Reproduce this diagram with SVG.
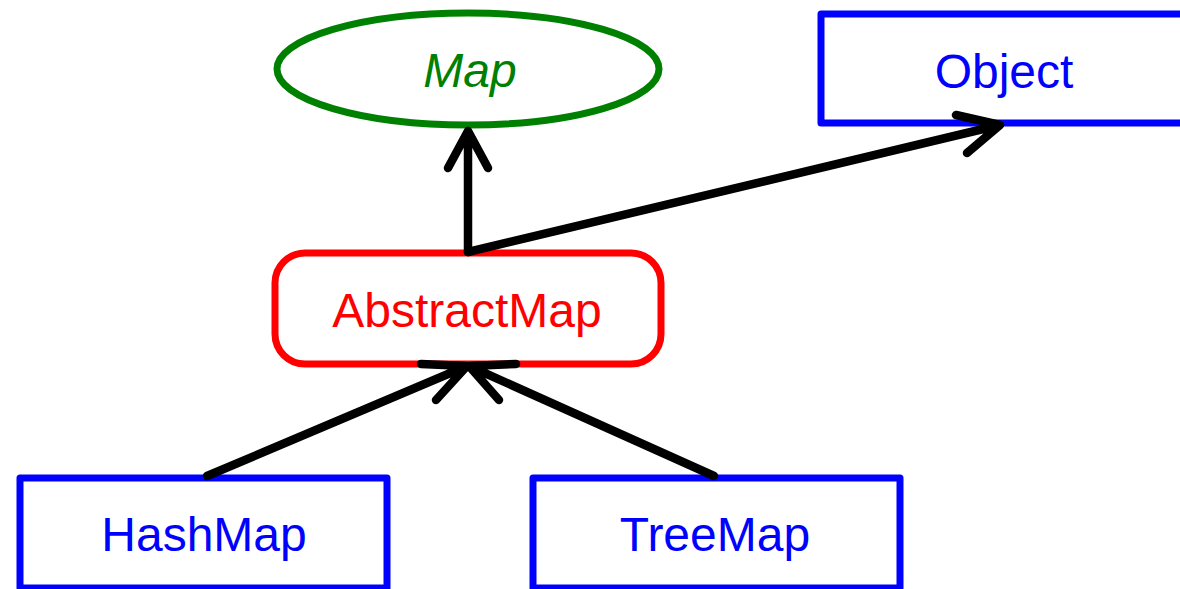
<svg xmlns="http://www.w3.org/2000/svg" width="1180" height="589" viewBox="0 0 1180 589">
<style>
.lbl{font-family:"Liberation Sans",Arial,sans-serif;font-size:48px;text-anchor:middle}
.box{fill:#fff;stroke:#0000ff;stroke-width:7;stroke-linejoin:round}
.edge{fill:none;stroke:#000;stroke-width:8.5;stroke-linecap:round;stroke-linejoin:round}
</style>
<rect width="1180" height="589" fill="#fff"/>
<g id="node-map">
<ellipse cx="468" cy="69" rx="191" ry="56" fill="#fff" stroke="#008000" stroke-width="7"/>
<text class="lbl" x="470" y="87" fill="#008000" font-style="italic">Map</text>
</g>
<g id="node-object">
<rect class="box" x="821" y="14" width="380" height="109"/>
<text class="lbl" x="1004" y="88" fill="#0000ff">Object</text>
</g>
<g id="node-abstractmap">
<rect x="275" y="253" width="386" height="111" rx="30" ry="30" fill="#fff" stroke="#ff0000" stroke-width="7"/>
<text class="lbl" x="467" y="327" fill="#ff0000">AbstractMap</text>
</g>
<g id="node-hashmap">
<rect class="box" x="20" y="478" width="367" height="110"/>
<text class="lbl" x="204" y="551" fill="#0000ff">HashMap</text>
</g>
<g id="node-treemap">
<rect class="box" x="533" y="478" width="367" height="110"/>
<text class="lbl" x="715" y="551" fill="#0000ff">TreeMap</text>
</g>
<g id="connectors">
<path class="edge" d="M468,252 L468,131 M448,168 L468,131 L488,168"/>
<path class="edge" d="M468,252 L1000,125 M956,115 L1000,125 L967,153"/>
<path class="edge" d="M207,476 L467,366 M421,364 L467,366 L436,400"/>
<path class="edge" d="M714,476 L469,366 M516,364 L469,366 L499,400"/>
</g>
</svg>
